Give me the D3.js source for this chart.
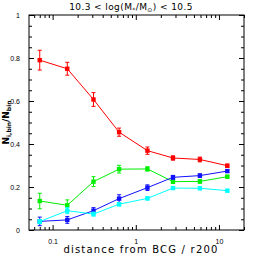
<!DOCTYPE html>
<html>
<head>
<meta charset="utf-8">
<script src="https://cdn.jsdelivr.net/npm/d3@7"></script>
<style>
  body { margin: 0; background: #fff; }
  svg { display: block; font-family: "DejaVu Sans", sans-serif; }
</style>
</head>
<body>
<div id="chart"></div>
<script>
// distance bins (r / r200)
const distances = [0.07, 0.15, 0.31, 0.63, 1.38, 2.8, 5.9, 12.6];

// fractions per population and their errors
const redVals   = [0.79, 0.75, 0.607, 0.455, 0.369, 0.335, 0.328, 0.299];
const redErr    = [0.046, 0.03, 0.032, 0.019, 0.017, 0.01, 0.011, 0.007];
const greenVals = [0.135, 0.115, 0.225, 0.283, 0.284, 0.225, 0.226, 0.248];
const greenErr  = [0.036, 0.025, 0.023, 0.018, 0.01, 0.009, 0.008, 0.006];
const blueVals  = [0.04, 0.047, 0.09, 0.146, 0.197, 0.245, 0.253, 0.274];
const blueErr   = [0.02, 0.016, 0.014, 0.018, 0.013, 0.009, 0.008, 0.006];
const cyanVals  = [0.039, 0.09, 0.074, 0.12, 0.147, 0.195, 0.194, 0.183];
const cyanErr   = [0.01, 0.014, 0.009, 0.008, 0.007, 0.006, 0.006, 0.005];

const yTicks = [0, 0.2, 0.4, 0.6, 0.8, 1];
const xTicks = [0.1, 1, 10];

const width = 258, height = 258;
const margin = { top: 15, right: 14, bottom: 28, left: 29 };
const innerW = width - margin.left - margin.right;
const innerH = height - margin.top - margin.bottom;

const svg = d3.select("#chart").append("svg")
    .attr("width", width)
    .attr("height", height);

const g = svg.append("g")
    .attr("transform", `translate(${margin.left},${margin.top})`);

const x = d3.scaleLog().domain([0.052, 20]).range([0, innerW]);
const y = d3.scaleLinear().domain([0, 1]).range([innerH, 0]);

// minor ticks
const xMinor = [];
[0.01, 0.1, 1, 10].forEach(dec => {
    for (let k = 2; k < 10; k++) {
        const v = dec * k;
        if (v >= 0.052 && v <= 20) xMinor.push(v);
    }
});
const yMinor = d3.range(0, 1.001, 0.05).filter(v => Math.abs(v * 5 - Math.round(v * 5)) > 1e-6);

// frame
g.append("rect")
    .attr("width", innerW)
    .attr("height", innerH)
    .attr("fill", "none")
    .attr("stroke", "#000")
    .attr("stroke-width", 1);

const axisStyle = sel => {
    sel.select(".domain").remove();
    sel.selectAll(".tick line").attr("stroke", "#000");
    sel.selectAll(".tick text").style("font-size", "7px").attr("fill", "#000");
};

// bottom/top axes
g.append("g").attr("transform", `translate(0,${innerH})`)
    .call(d3.axisBottom(x).tickValues(xTicks).tickFormat(d3.format("~g")).tickSizeInner(-5).tickPadding(9))
    .call(axisStyle);
g.append("g").attr("transform", `translate(0,${innerH})`)
    .call(d3.axisBottom(x).tickValues(xMinor).tickFormat("").tickSizeInner(-3))
    .call(axisStyle);
g.append("g")
    .call(d3.axisTop(x).tickValues(xTicks).tickFormat("").tickSizeInner(-5))
    .call(axisStyle);
g.append("g")
    .call(d3.axisTop(x).tickValues(xMinor).tickFormat("").tickSizeInner(-3))
    .call(axisStyle);

// left/right axes
g.append("g")
    .call(d3.axisLeft(y).tickValues(yTicks).tickFormat(d => d === 0 || d === 1 ? d3.format("d")(d) : d3.format(".1f")(d)).tickSizeInner(-5).tickPadding(9))
    .call(axisStyle);
g.append("g")
    .call(d3.axisLeft(y).tickValues(yMinor).tickFormat("").tickSizeInner(-3))
    .call(axisStyle);
g.append("g").attr("transform", `translate(${innerW},0)`)
    .call(d3.axisRight(y).tickValues(yTicks).tickFormat("").tickSizeInner(-5))
    .call(axisStyle);
g.append("g").attr("transform", `translate(${innerW},0)`)
    .call(d3.axisRight(y).tickValues(yMinor).tickFormat("").tickSizeInner(-3))
    .call(axisStyle);

// series
const series = [
    { color: "#ff0000", vals: redVals, err: redErr },
    { color: "#00ee00", vals: greenVals, err: greenErr },
    { color: "#1010ff", vals: blueVals, err: blueErr },
    { color: "#00ffff", vals: cyanVals, err: cyanErr }
];

const line = d3.line()
    .x((d, i) => x(distances[i]))
    .y(d => y(d));

series.forEach(s => {
    g.append("path")
        .datum(s.vals)
        .attr("fill", "none")
        .attr("stroke", s.color)
        .attr("stroke-width", 1)
        .attr("d", line);

    s.vals.forEach((v, i) => {
        const cx = x(distances[i]);
        const y0 = y(v - s.err[i]), y1 = y(v + s.err[i]);
        g.append("line")
            .attr("x1", cx).attr("x2", cx)
            .attr("y1", y0).attr("y2", y1)
            .attr("stroke", s.color).attr("stroke-width", 1);
        [y0, y1].forEach(yy => {
            g.append("line")
                .attr("x1", cx - 2).attr("x2", cx + 2)
                .attr("y1", yy).attr("y2", yy)
                .attr("stroke", s.color).attr("stroke-width", 1);
        });
        g.append("rect")
            .attr("x", cx - 2.2).attr("y", y(v) - 2.2)
            .attr("width", 4.4).attr("height", 4.4)
            .attr("fill", s.color);
    });
});

// title
const title = svg.append("text")
    .attr("x", 131)
    .attr("y", 10)
    .attr("text-anchor", "middle")
    .style("font-size", "9px")
    .style("letter-spacing", "0.4px");
title.append("tspan").text("10.3 < log(M");
title.append("tspan").attr("dy", 2).style("font-size", "6px").text("*");
title.append("tspan").attr("dy", -2).text("/M");
title.append("tspan").attr("dy", 2).style("font-size", "6px").text("⊙");
title.append("tspan").attr("dy", -2).text(") < 10.5");

// y label
const ylab = svg.append("text")
    .attr("transform", `translate(9,${margin.top + innerH / 2}) rotate(-90)`)
    .attr("text-anchor", "middle")
    .style("font-size", "9px")
    .style("font-weight", "bold");
ylab.append("tspan").text("N");
ylab.append("tspan").attr("dy", 2).style("font-size", "6px").text("i,bin");
ylab.append("tspan").attr("dy", -2).text("/N");
ylab.append("tspan").attr("dy", 2).style("font-size", "6px").text("bin");

// x label
svg.append("text")
    .attr("x", 141)
    .attr("y", 253)
    .attr("text-anchor", "middle")
    .style("font-size", "10px")
    .style("letter-spacing", "1.2px")
    .text("distance from BCG / r200");
</script>
</body>
</html>
